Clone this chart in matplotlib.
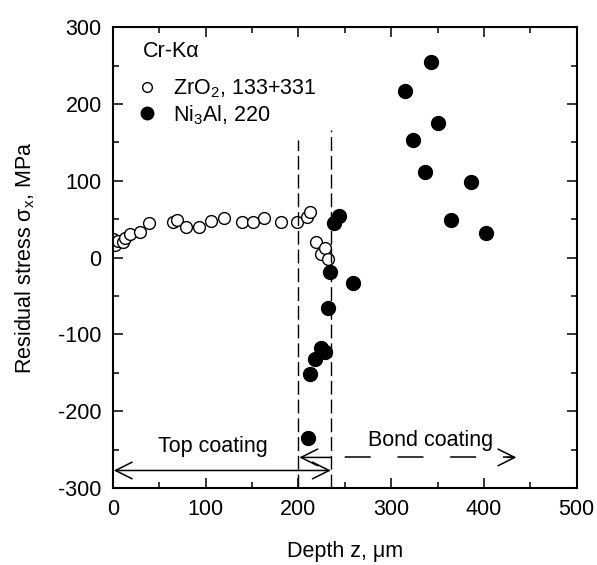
import matplotlib
matplotlib.use("Agg")
import matplotlib.pyplot as plt
from matplotlib.lines import Line2D

plt.rcParams['font.family'] = ['Liberation Sans', 'DejaVu Sans']
plt.rcParams['mathtext.fontset'] = 'custom'
plt.rcParams['mathtext.rm'] = 'Liberation Sans'
plt.rcParams['mathtext.it'] = 'Liberation Sans:italic'
plt.rcParams['axes.unicode_minus'] = False

# ZrO2, 133+331 (open circles)
zr_depth = [0, 2, 6, 11, 13, 18, 29, 39, 65, 69, 79, 93, 106, 120, 139, 151, 163, 181, 199, 209, 213, 219, 224, 229, 232]
zr_stress = [24, 16, 22, 20, 26, 31, 33, 45, 46, 49, 40, 40, 48, 51, 47, 47, 52, 47, 46, 53, 60, 20, 5, 13, -2]

# Ni3Al, 220 (filled circles)
ni_depth = [238, 244, 234, 259, 232, 224, 229, 218, 213, 210, 343, 315, 351, 324, 336, 386, 365, 402]
ni_stress = [45, 54, -19, -33, -66, -117, -123, -132, -151, -235, 254, 217, 175, 153, 111, 99, 49, 32]

boundaries = [200, 235]
boundary_tops = [153, 166]

FS = 15.5

fig = plt.figure(figsize=(5.97, 5.65), dpi=100)
ax = fig.add_axes([0.189, 0.136, 0.777, 0.816])

ax.plot(zr_depth, zr_stress, 'o', mfc='white', mec='black', ms=8.5, mew=1.0,
        linestyle='none')
ax.plot(ni_depth, ni_stress, 'o', mfc='black', mec='black', ms=10,
        linestyle='none')

for xb, yt in zip(boundaries, boundary_tops):
    ax.plot([xb, xb], [-300, yt], color='black', lw=1.0, dashes=(10, 3.5))

# Top coating arrow
ax.annotate('', xy=(1, -277), xytext=(235, -277),
            arrowprops=dict(arrowstyle='<->', color='black', lw=1.1,
                            mutation_scale=30, shrinkA=0, shrinkB=0))
# Bond coating arrow: solid head segments + dashed body
ax.annotate('', xy=(201, -260), xytext=(235, -260),
            arrowprops=dict(arrowstyle='->', color='black', lw=1.1,
                            mutation_scale=30, shrinkA=0, shrinkB=0))
ax.plot([235, 432], [-260, -260], color='black', lw=1.1, dashes=(0, 9, 17, 8.5))
ax.annotate('', xy=(435, -260), xytext=(425, -260),
            arrowprops=dict(arrowstyle='->', color='black', lw=1.1,
                            mutation_scale=30, shrinkA=0, shrinkB=0))
ax.text(108, -246, 'Top coating', ha='center', va='center', fontsize=FS)
ax.text(342, -238, 'Bond coating', ha='center', va='center', fontsize=FS)

ax.set_xlim(0, 500)
ax.set_ylim(-300, 300)
ax.set_xticks([0, 100, 200, 300, 400, 500])
ax.set_yticks([-300, -200, -100, 0, 100, 200, 300])
ax.set_xticks(range(50, 500, 100), minor=True)
ax.set_yticks(range(-250, 300, 100), minor=True)
ax.tick_params(which='both', direction='in', top=True, right=True, labelsize=FS, width=1.1)
ax.tick_params(which='major', length=7, pad=8)
ax.tick_params(which='minor', length=4)
for s in ax.spines.values():
    s.set_linewidth(1.5)

ax.set_xlabel('Depth z, μm', fontsize=FS, labelpad=15)
ax.set_ylabel('Residual stress σ$_\\mathregular{x}$, MPa', fontsize=FS, labelpad=15)

ax.text(0.065, 0.948, 'Cr-Kα', transform=ax.transAxes, ha='left', va='center', fontsize=FS)
handles = [Line2D([], [], marker='o', ls='none', mfc='white', mec='black', ms=7, mew=1.0),
           Line2D([], [], marker='o', ls='none', mfc='black', mec='black', ms=9)]
labels = ['ZrO$_\\mathregular{2}$, 133+331', 'Ni$_\\mathregular{3}$Al, 220']
ax.legend(handles, labels, loc='upper left', bbox_to_anchor=(0.05, 0.89),
          frameon=False, fontsize=FS, handletextpad=0.7, borderaxespad=0,
          borderpad=0, labelspacing=0.12, handlelength=1.0)

fig.savefig('out.png', dpi=100)
